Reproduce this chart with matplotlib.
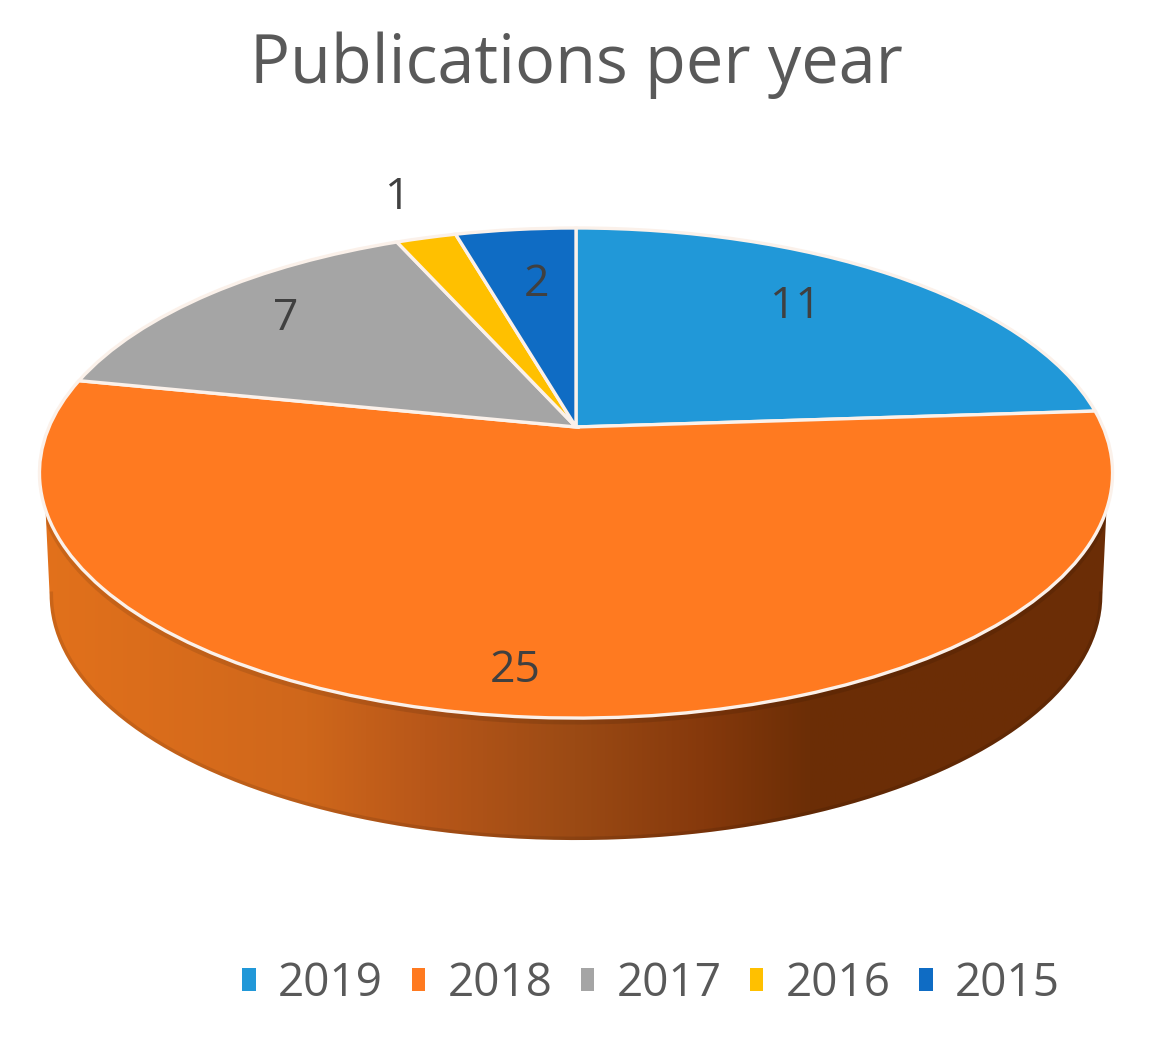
import numpy as np
import matplotlib
matplotlib.use("Agg")
import matplotlib.pyplot as plt
from matplotlib.colors import LinearSegmentedColormap
from matplotlib.patches import Patch
from matplotlib.path import Path
from matplotlib.transforms import Transform

years = ["2019", "2018", "2017", "2016", "2015"]
publications = [11, 25, 7, 1, 2]
slice_colors = ["#2198d8", "#ff7a20", "#a5a5a5", "#ffc000", "#0f6cc4"]

# where the value labels sit, in image pixels
label_x = [796, 515, 286, 398, 536]
label_y = [307, 671, 319, 198, 285]

# wall shading left to right
wall_stops = [0.0, 0.25, 0.36, 0.5, 0.62, 0.72, 1.0]
wall_shades = ["#e2711c", "#cf671b", "#b85719", "#9b4a14", "#86390c", "#6c2e06", "#6b2d06"]

# tilted pie seen in perspective, all in image pixels
cx, cy = 576, 427
rx, ry = 527, 236.4
tilt = 0.1878
wall_depth = 122
wall_rx = 517


def project(u, v, a=rx, dy=0):
    d = 1 + tilt * v
    return cx + a * u / d, cy + dy - ry * v / d


class PieProjection(Transform):
    input_dims = 2
    output_dims = 2

    def transform_non_affine(self, values):
        values = np.asarray(values)
        x, y = project(values[:, 0], values[:, 1])
        return np.column_stack([x, y])


fig = plt.figure(figsize=(11.5, 10.45), dpi=100)
ax = fig.add_axes([0, 0, 1, 1])
plt.rcParams["font.family"] = "Open Sans"

# side wall
side = np.radians(19.2)
edge = np.arcsin(tilt)
top_t = np.linspace(np.pi + side, 2 * np.pi - side, 200)
bot_t = np.linspace(2 * np.pi - edge, np.pi + edge, 200)
top_x, top_y = project(np.cos(top_t), np.sin(top_t))
bot_x, bot_y = project(np.cos(bot_t), np.sin(bot_t), a=wall_rx, dy=wall_depth)
wall = Path(np.column_stack([np.r_[top_x, bot_x], np.r_[top_y, bot_y]]))
cmap = LinearSegmentedColormap.from_list("wall", list(zip(wall_stops, wall_shades)))
im = ax.imshow(np.linspace(0, 1, 512)[None, :], cmap=cmap, aspect="auto",
               extent=[40, 1110, 850, 500], zorder=0)
im.set_clip_path(wall, transform=ax.transData)
for xs, ys in [(bot_x, bot_y), (top_x, top_y + 3)]:
    rim, = ax.plot(xs, ys, color="black", alpha=0.1, lw=5, zorder=0.5)
    rim.set_clip_path(wall, transform=ax.transData)

wedges, _ = ax.pie(publications, colors=slice_colors, startangle=90, counterclock=False,
                   wedgeprops=dict(edgecolor="#fbf1ea", linewidth=2.4))
persp = PieProjection()
for w in wedges:
    w.set_transform(persp + ax.transData)
    w.set_clip_on(False)

for xp, yp, val in zip(label_x, label_y, publications):
    ax.text(xp, yp, str(val), ha="center", va="center", fontsize=32, color="#404040")

ax.set_aspect("auto")
ax.set_xlim(0, 1150)
ax.set_ylim(1045, 0)
ax.axis("off")

ax.text(576, 65, "Publications per year", ha="center", va="center", fontsize=48, color="#595959")

handles = [Patch(facecolor=c, edgecolor="none") for c in slice_colors]
ax.legend(handles, years, ncol=5, loc="center", bbox_to_anchor=(651 / 1150, 1 - 984 / 1045),
          frameon=False, fontsize=33, labelcolor="#595959", handlelength=0.3, handleheight=0.4,
          handletextpad=0.48, columnspacing=0.62, borderpad=0)

plt.savefig("out.png", dpi=100)
